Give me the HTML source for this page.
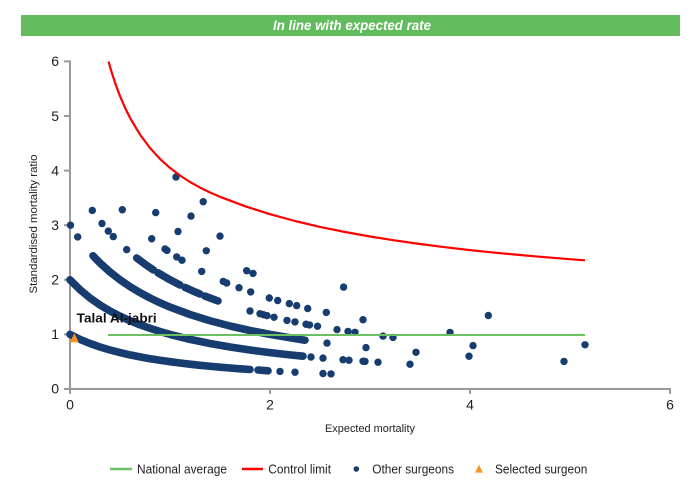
<!DOCTYPE html>
<html><head><meta charset="utf-8"><style>
html,body{margin:0;padding:0;background:#fff;}
svg{display:block;font-family:"Liberation Sans",Arial,sans-serif;}
</style></head><body>
<svg width="700" height="500" viewBox="0 0 700 500" xmlns="http://www.w3.org/2000/svg">
<rect x="0" y="0" width="700" height="500" fill="#fff"/>
<!-- title bar -->
<rect x="21" y="15" width="659" height="21" fill="#62bb5d"/>
<text x="352" y="30" fill="#fff" font-size="14" font-weight="bold" font-style="italic" text-anchor="middle" textLength="158" lengthAdjust="spacingAndGlyphs" style="font-family:'Liberation Sans Narrow','Liberation Sans',sans-serif">In line with expected rate</text>

<!-- axes -->
<g stroke="#9a9a9a" stroke-width="2" fill="none">
<line x1="70" y1="60.5" x2="70" y2="389"/>
<line x1="69" y1="389" x2="671" y2="389"/>
<line x1="64" y1="61.4" x2="71" y2="61.4"/>
<line x1="64" y1="116" x2="70" y2="116"/>
<line x1="64" y1="170.6" x2="70" y2="170.6"/>
<line x1="64" y1="225.2" x2="70" y2="225.2"/>
<line x1="64" y1="279.8" x2="70" y2="279.8"/>
<line x1="64" y1="334.4" x2="70" y2="334.4"/>
<line x1="64" y1="389" x2="70" y2="389"/>
<line x1="70" y1="389" x2="70" y2="394"/>
<line x1="270" y1="389" x2="270" y2="394"/>
<line x1="470" y1="389" x2="470" y2="394"/>
<line x1="670" y1="388" x2="670" y2="394"/>
</g>
<g font-size="14" fill="#222" text-anchor="end">
<text x="59" y="66">6</text>
<text x="59" y="121">5</text>
<text x="59" y="175.5">4</text>
<text x="59" y="230">3</text>
<text x="59" y="284.5">2</text>
<text x="59" y="339">1</text>
<text x="59" y="393.5">0</text>
</g>
<g font-size="14" fill="#222" text-anchor="middle">
<text x="70" y="409.5">0</text>
<text x="270" y="409.5">2</text>
<text x="470" y="409.5">4</text>
<text x="670" y="409.5">6</text>
</g>
<text x="370" y="432" font-size="11" fill="#222" text-anchor="middle" textLength="90" lengthAdjust="spacingAndGlyphs">Expected mortality</text>
<text transform="translate(37,224) rotate(-90)" x="0" y="0" font-size="11" fill="#222" text-anchor="middle" textLength="139" lengthAdjust="spacingAndGlyphs">Standardised mortality ratio</text>

<!-- bands -->
<g fill="none" stroke="#173c70" stroke-width="7.6" stroke-linecap="round" stroke-linejoin="round">
<polyline points="70,334.4 80,339.4 90,343.5 100,347 110,350 120,352.6 130,354.9 140,356.9 150,358.7 160,360.3 170,361.7 180,363 190,364.2 200,365.3 210,366.25 220,367.2 230,368 240,368.8 250,369.5"/>
<polyline points="258,370 268,370.8"/>
<polyline points="70,279.8 80,289.7 90,298 100,305 110,311 120,316.2 130,320.75 140,324.8 150,328.3 160,331.5 170,334.4 190,339.4 210,343.5 230,347 250,350 270,352.6 290,354.9 303,356.2"/>
<polyline points="93,255.8 100,263 110,272 120,279.8 130,286.6 140,292.65 150,298 160,302.8 170,307.1 190,314.5 210,320.75 230,326 250,330.5 270,334.4 290,337.8 305,340.2"/>
<polyline points="136.7,258 145,264.2 153.3,269.9"/>
<polyline points="158,272.8 170,279.8 180,285"/>
<polyline points="185,287.4 192,290.6 200,294"/>
<polyline points="205,296.1 211.5,298.6 218,300.9"/>
</g>
<g fill="#173c70">
<!-- band 1 dots -->
<circle cx="280" cy="371.4" r="3.7"/><circle cx="295" cy="372.2" r="3.7"/><circle cx="323" cy="373.5" r="3.7"/><circle cx="331" cy="373.9" r="3.7"/>
<!-- band 2 dots -->
<circle cx="311" cy="357" r="3.7"/><circle cx="323" cy="358.1" r="3.7"/><circle cx="343" cy="359.7" r="3.7"/><circle cx="349" cy="360.2" r="3.7"/><circle cx="363" cy="361.2" r="3.7"/><circle cx="365" cy="361.4" r="3.7"/><circle cx="378" cy="362.2" r="3.7"/><circle cx="410" cy="364.2" r="3.7"/>
<!-- band 3 dots -->
<circle cx="70.5" cy="225.2" r="3.7"/><circle cx="77.7" cy="236.9" r="3.7"/><circle cx="327" cy="343.1" r="3.7"/><circle cx="366" cy="347.6" r="3.7"/><circle cx="416" cy="352.3" r="3.7"/><circle cx="469" cy="356.2" r="3.7"/><circle cx="564" cy="361.4" r="3.7"/>
<!-- band 4 dots -->
<circle cx="92.3" cy="210.4" r="3.7"/><circle cx="102" cy="223.5" r="3.7"/><circle cx="108.3" cy="231.1" r="3.7"/><circle cx="113.3" cy="236.6" r="3.7"/><circle cx="126.7" cy="249.6" r="3.7"/>
<circle cx="250" cy="311" r="3.7"/><circle cx="260" cy="313.7" r="3.7"/><circle cx="263.5" cy="314.7" r="3.7"/><circle cx="267" cy="315.6" r="3.7"/><circle cx="274" cy="317.3" r="3.7"/><circle cx="287" cy="320.4" r="3.7"/><circle cx="295" cy="321.9" r="3.7"/><circle cx="306" cy="324.2" r="3.7"/><circle cx="309.5" cy="324.9" r="3.7"/><circle cx="317.5" cy="326.2" r="3.7"/><circle cx="337" cy="329.6" r="3.7"/><circle cx="348" cy="331.4" r="3.7"/><circle cx="355" cy="332.3" r="3.7"/><circle cx="383" cy="336.1" r="3.7"/><circle cx="393" cy="337.4" r="3.7"/><circle cx="473" cy="345.6" r="3.7"/>
<!-- band 5 dots -->
<circle cx="122.3" cy="209.75" r="3.7"/><circle cx="151.7" cy="238.75" r="3.7"/><circle cx="165" cy="249" r="3.7"/><circle cx="167" cy="250.4" r="3.7"/><circle cx="176.7" cy="256.9" r="3.7"/><circle cx="182" cy="260.2" r="3.7"/><circle cx="201.7" cy="271.4" r="3.7"/><circle cx="223.3" cy="281.4" r="3.7"/><circle cx="226.7" cy="283" r="3.7"/><circle cx="239" cy="287.7" r="3.7"/><circle cx="250.7" cy="291.9" r="3.7"/><circle cx="269.3" cy="298" r="3.7"/><circle cx="277.7" cy="300.5" r="3.7"/><circle cx="289.3" cy="303.6" r="3.7"/><circle cx="296.7" cy="305.6" r="3.7"/><circle cx="307.7" cy="308.5" r="3.7"/><circle cx="326.3" cy="312.4" r="3.7"/><circle cx="363" cy="319.7" r="3.7"/><circle cx="450" cy="332.4" r="3.7"/><circle cx="585" cy="344.8" r="3.7"/>
<!-- band 6 -->
<circle cx="155.7" cy="212.6" r="3.7"/><circle cx="178" cy="231.5" r="3.7"/><circle cx="206.3" cy="250.8" r="3.7"/><circle cx="246.7" cy="270.7" r="3.7"/><circle cx="253" cy="273.4" r="3.7"/>
<!-- band 7 -->
<circle cx="191" cy="216.1" r="3.7"/><circle cx="220" cy="236.1" r="3.7"/><circle cx="343.6" cy="287.1" r="3.7"/><circle cx="488.3" cy="315.5" r="3.7"/>
<!-- band 8 -->
<circle cx="176" cy="177" r="3.7"/><circle cx="203.2" cy="201.7" r="3.7"/>
</g>

<!-- national average -->
<line x1="108" y1="335" x2="585" y2="335" stroke="#6cc062" stroke-width="2"/>
<!-- control limit -->
<polyline fill="none" stroke="#ff0000" stroke-width="2.2" stroke-linejoin="round" points="108.5,61.5 112,73.4 116,85.4 120,96.1 125,107.7 130,117.8 140,134.6 150,148 160,158.9 170,167.9 180,175.5 190,182 200,187.6 210,192.5 220,196.8 245,206.2 270,214.2 295,221 320,226.9 345,232 370,236.5 395,240.4 420,244 445,247.2 470,250.1 495,252.7 520,255 545,257.2 570,259.2 585,260.3"/>

<!-- selected surgeon -->
<polygon points="74.3,333.3 69.8,342.2 78.8,342.2" fill="#f7931e"/>
<text x="76.7" y="322.7" font-size="13.3" font-weight="bold" fill="#111" textLength="80" lengthAdjust="spacingAndGlyphs">Talal Al-jabri</text>

<!-- legend -->
<line x1="110" y1="469" x2="132" y2="469" stroke="#6cc062" stroke-width="2.5"/>
<text x="137" y="473.3" font-size="13" fill="#222" textLength="90" lengthAdjust="spacingAndGlyphs">National average</text>
<line x1="242" y1="469" x2="263" y2="469" stroke="#ff0000" stroke-width="2.5"/>
<text x="268.3" y="473.3" font-size="13" fill="#222" textLength="62.7" lengthAdjust="spacingAndGlyphs">Control limit</text>
<circle cx="356.3" cy="469" r="2.8" fill="#173c70"/>
<text x="372.3" y="473.3" font-size="13" fill="#222" textLength="81.7" lengthAdjust="spacingAndGlyphs">Other surgeons</text>
<polygon points="479,464.8 475.2,472.6 482.8,472.6" fill="#f7931e"/>
<text x="495" y="473.3" font-size="13" fill="#222" textLength="92.3" lengthAdjust="spacingAndGlyphs">Selected surgeon</text>
</svg>
</body></html>
